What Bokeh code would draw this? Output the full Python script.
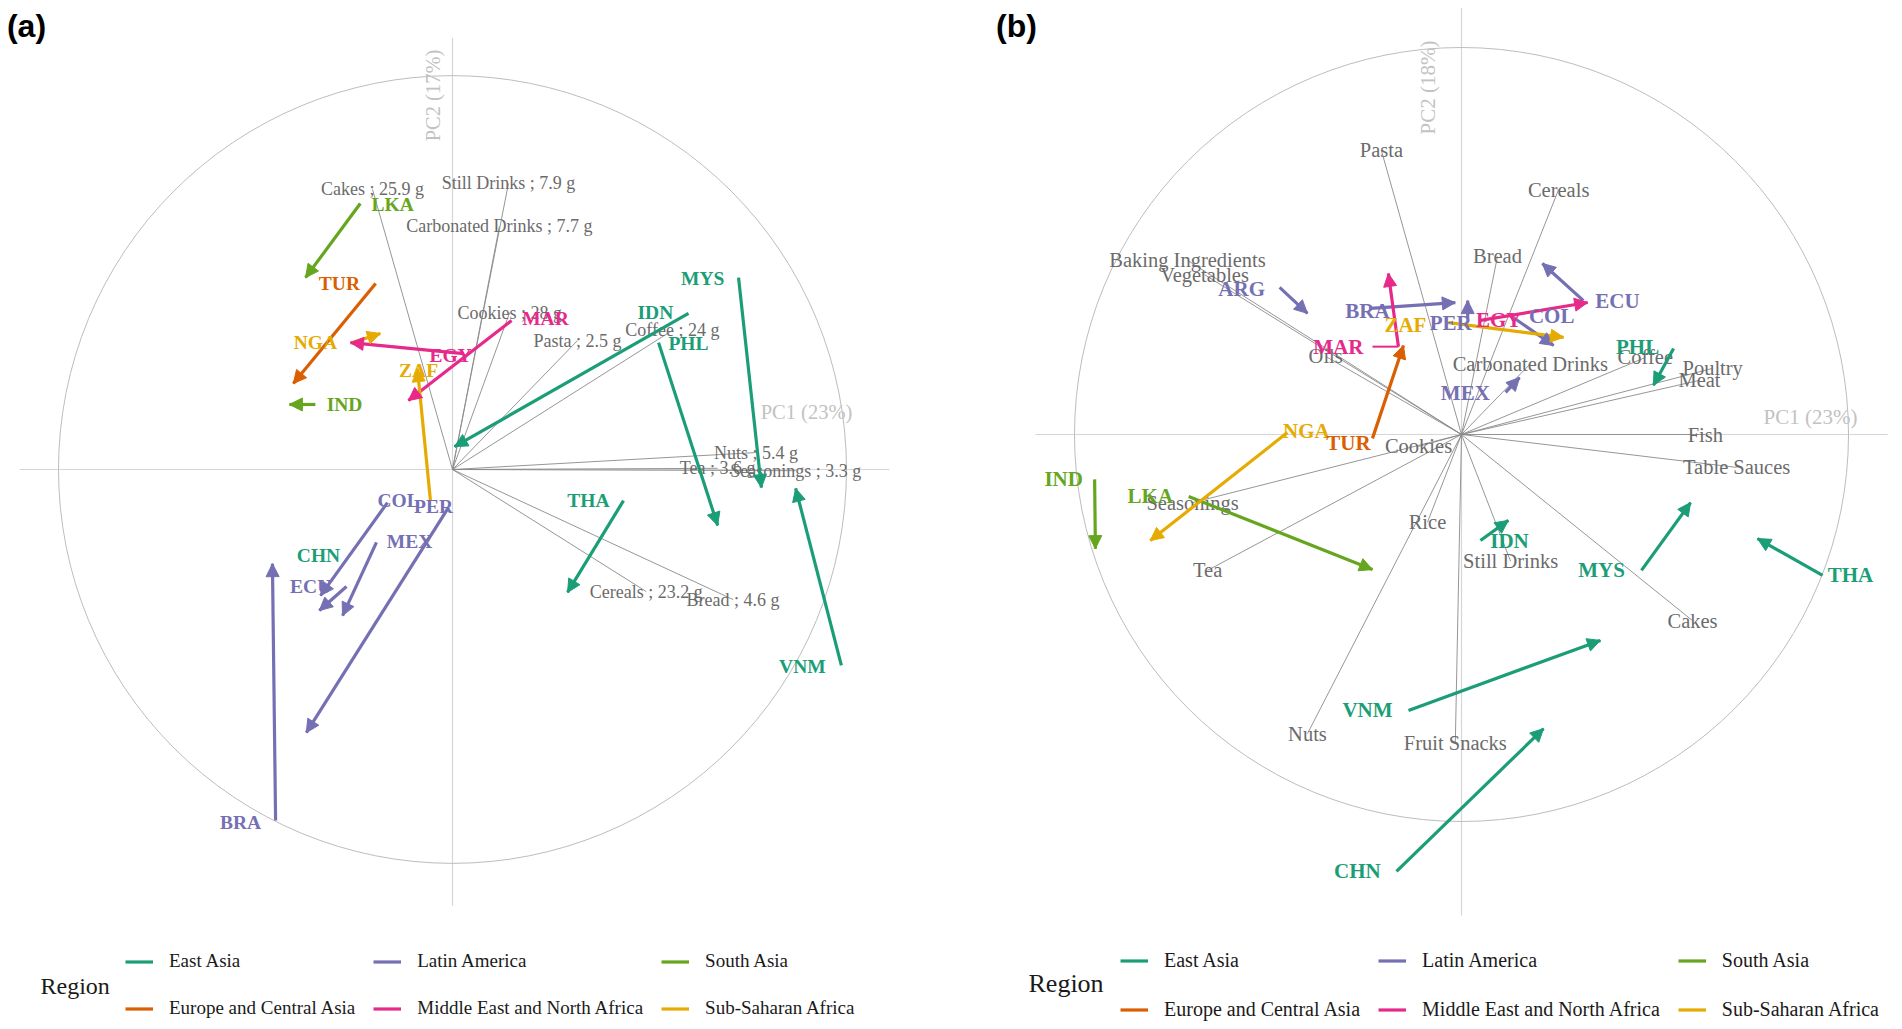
import numpy as np
from bokeh.plotting import figure
from bokeh.models import (ColumnDataSource, Arrow, NormalHead, Legend, LegendItem,
                          Label, Range1d)
from bokeh.layouts import row
from bokeh.embed import file_html
from bokeh.resources import INLINE
from bokeh.core.properties import value

# ---------------- shared ----------------
regions = ["East Asia", "Europe and Central Asia", "Latin America",
           "Middle East and North Africa", "South Asia", "Sub-Saharan Africa"]
region_colors = ["#1B9E77", "#D95F02", "#7570B3", "#E7298A", "#66A61E", "#E6AB02"]
EA, ECA, LA, MENA, SA, SSA = regions

# ---------------- panel (a) data ----------------
a_country = ["LKA", "TUR", "NGA", "EGY", "MAR", "ZAF", "IND", "IDN", "MYS", "PHL",
             "VNM", "THA", "CHN", "COL", "PER", "MEX", "ECU", "BRA"]
a_region = [SA, ECA, SSA, MENA, MENA, SSA, SA, EA, EA, EA,
            EA, EA, EA, LA, LA, LA, LA, LA]
a_label_x = [-0.152, -0.287, -0.348, -0.005, 0.236, -0.086, -0.274, 0.515, 0.635, 0.599,
             0.888, 0.345, -0.340, -0.137, -0.048, -0.109, -0.360, -0.538]
a_label_y = [0.673, 0.472, 0.322, 0.289, 0.383, 0.251, 0.165, 0.398, 0.485, 0.320,
             -0.500, -0.079, -0.218, -0.079, -0.094, -0.183, -0.297, -0.896]
a_x0 = [-0.234, -0.195, -0.254, 0.028, 0.150, -0.056, -0.348, 0.599, 0.726, 0.523,
        0.987, 0.434, -0.340, -0.165, -0.010, -0.193, -0.269, -0.449]
a_y0 = [0.675, 0.472, 0.322, 0.294, 0.378, -0.079, 0.165, 0.396, 0.487, 0.322,
        -0.497, -0.079, -0.218, -0.084, -0.096, -0.185, -0.297, -0.891]
a_x1 = [-0.373, -0.404, -0.183, -0.259, -0.112, -0.089, -0.414, 0.005, 0.784, 0.673,
        0.871, 0.292, -0.340, -0.335, -0.371, -0.279, -0.338, -0.457]
a_y1 = [0.487, 0.218, 0.345, 0.322, 0.175, 0.256, 0.165, 0.058, -0.046, -0.142,
        -0.048, -0.312, -0.218, -0.320, -0.668, -0.371, -0.358, -0.239]

a_var = ["Cakes ; 25.9 g", "Still Drinks ; 7.9 g", "Carbonated Drinks ; 7.7 g",
         "Cookies ; 28 g", "Pasta ; 2.5 g", "Coffee ; 24 g", "Nuts ; 5.4 g",
         "Tea ; 3.6 g", "Seasonings ; 3.3 g", "Cereals ; 23.2 g", "Bread ; 4.6 g"]
a_var_x = [-0.203, 0.142, 0.119, 0.145, 0.317, 0.558, 0.770, 0.673, 0.871, 0.492, 0.712]
a_var_y = [0.711, 0.726, 0.617, 0.398, 0.327, 0.353, 0.043, 0.003, -0.003, -0.310, -0.330]

# ---------------- panel (b) data ----------------
b_country = ["ARG", "BRA", "ZAF", "PER", "EGY", "COL", "ECU", "MAR", "MEX", "PHL",
             "NGA", "TUR", "IND", "LKA", "IDN", "MYS", "THA", "VNM", "CHN"]
b_region = [LA, LA, SSA, LA, MENA, LA, LA, MENA, LA, EA,
            SSA, ECA, SA, SA, EA, EA, EA, EA, EA]
b_label_x = [-0.568, -0.243, -0.145, -0.028, 0.096, 0.233, 0.403, -0.318, 0.010, 0.455,
             -0.401, -0.292, -1.028, -0.804, 0.124, 0.362, 1.005, -0.243, -0.269]
b_label_y = [0.377, 0.318, 0.282, 0.287, 0.295, 0.305, 0.346, 0.227, 0.106, 0.227,
             0.010, -0.023, -0.116, -0.160, -0.276, -0.351, -0.364, -0.713, -1.129]
b_x0 = [-0.470, -0.235, -0.034, 0.016, 0.049, 0.127, 0.315, -0.163, 0.114, 0.548,
        -0.450, -0.230, -0.948, -0.705, 0.049, 0.465, 0.933, -0.137, -0.168]
b_y0 = [0.380, 0.326, 0.289, 0.300, 0.295, 0.307, 0.346, 0.227, 0.109, 0.222,
        0.005, -0.010, -0.116, -0.160, -0.274, -0.351, -0.364, -0.713, -1.129]
b_x1 = [-0.398, -0.016, 0.264, 0.016, 0.326, 0.238, 0.209, -0.189, 0.150, 0.496,
        -0.804, -0.150, -0.946, -0.230, 0.121, 0.592, 0.765, 0.359, 0.212]
b_y1 = [0.313, 0.341, 0.251, 0.346, 0.341, 0.230, 0.442, 0.416, 0.147, 0.127,
        -0.274, 0.230, -0.295, -0.349, -0.222, -0.176, -0.269, -0.532, -0.760]
# label-to-point connector (repelled label)
b_conn_country = ["MAR"]
b_conn_x0 = [-0.230]
b_conn_y0 = [0.227]
b_conn_x1 = [-0.163]
b_conn_y1 = [0.227]

b_var = ["Pasta", "Cereals", "Bread", "Baking Ingredients", "Vegetables", "Oils",
         "Carbonated Drinks", "Coffee", "Poultry", "Meat", "Fish", "Table Sauces",
         "Cookies", "Seasonings", "Tea", "Rice", "Nuts", "Fruit Snacks",
         "Still Drinks", "Cakes"]
b_var_x = [-0.207, 0.251, 0.093, -0.708, -0.664, -0.351, 0.178, 0.475, 0.649, 0.615,
           0.630, 0.711, -0.111, -0.695, -0.656, -0.088, -0.398, -0.016, 0.127, 0.597]
b_var_y = [0.734, 0.633, 0.460, 0.450, 0.413, 0.202, 0.183, 0.199, 0.171, 0.140,
           0.000, -0.085, -0.031, -0.176, -0.351, -0.227, -0.773, -0.798, -0.328, -0.481]

pc1_labels = ["PC1 (23%)", "PC1 (23%)"]
pc2_labels = ["PC2 (17%)", "PC2 (18%)"]
panel_tags = ["(a)", "(b)"]

# axis line extents (data units): hmin, hmax, vmin, vmax
a_axis = (-1.099, 1.109, -1.107, 1.096)
b_axis = (-1.101, 1.101, -1.243, 1.103)

# ---------------- layout geometry (page pixels) ----------------
TOP, BOTTOM = 0, 1024
geo_a = dict(cx=452, cy=469, R=394, left=0, right=948,
             var_font="18px", cty_font="19.5px", pc_font="20.5px", leg_font="19px",
             leg_x=125, leg_row1=961, leg_gh=29, region_font="24px",
             region_xy=(40, 985), tag_xy=(26, 25),
             pc1_xy=(806, 411), pc2_xy=(432, 95))
geo_b = dict(cx=1461, cy=434, R=387, left=948, right=1896,
             var_font="20.5px", cty_font="21px", pc_font="21px", leg_font="20px",
             leg_x=1120, leg_row1=960, leg_gh=31, region_font="26px",
             region_xy=(1028, 983), tag_xy=(1016, 25),
             pc1_xy=(1810, 416), pc2_xy=(1427, 87))

SERIF = "Liberation Serif"


def build(g, country, region, lx, ly, x0, y0, x1, y1, var, vx, vy, axis,
          pc1, pc2, tag, conn=None):
    cx, cy, R = g["cx"], g["cy"], g["R"]

    def d(X, Y):
        return (X - cx) / R, (cy - Y) / R

    W = g["right"] - g["left"]
    H = BOTTOM - TOP
    xs, _ = d(g["left"], 0)
    xe, _ = d(g["right"], 0)
    _, ys = d(0, BOTTOM)
    _, ye = d(0, TOP)
    p = figure(width=W, height=H, x_range=Range1d(xs, xe), y_range=Range1d(ys, ye),
               output_backend="svg", toolbar_location=None, min_border=0,
               x_axis_location=None, y_axis_location=None, outline_line_color=None,
               background_fill_color="white", border_fill_color="white")
    p.grid.visible = False

    # axes through origin
    hmin, hmax, vmin, vmax = axis
    p.segment(x0=[hmin, 0], y0=[0, vmin], x1=[hmax, 0], y1=[0, vmax],
              line_color="#d6d6d6", line_width=1.2)
    # correlation circle
    p.circle(x=[0], y=[0], radius=1, fill_color=None, line_color="#bdbdbd", line_width=1)

    # variable loadings
    vsrc = ColumnDataSource(dict(x=vx, y=vy, t=var, z=[0.0] * len(vx)))
    p.segment(x0="z", y0="z", x1="x", y1="y", source=vsrc, line_color="#8a8a8a", line_width=0.9)
    p.text(x="x", y="y", text="t", source=vsrc, text_font=value(SERIF),
           text_font_size=g["var_font"], text_color="#6b6b6b",
           text_align="center", text_baseline="middle")

    # PC axis labels
    pcx, pcy = d(*g["pc1_xy"])
    p.add_layout(Label(x=pcx, y=pcy, text=pc1, text_font=SERIF, text_font_size=g["pc_font"],
                       text_color="#c2c2c2", text_align="center", text_baseline="middle"))
    pcx, pcy = d(*g["pc2_xy"])
    p.add_layout(Label(x=pcx, y=pcy, text=pc2, text_font=SERIF, text_font_size=g["pc_font"],
                       text_color="#c2c2c2", text_align="center", text_baseline="middle",
                       angle=np.pi / 2))

    # country arrows grouped by region
    items = []
    for reg, col in zip(regions, region_colors):
        idx = [i for i, r in enumerate(region)
               if r == reg and (x0[i] != x1[i] or y0[i] != y1[i])]
        src = ColumnDataSource(dict(x0=[x0[i] for i in idx], y0=[y0[i] for i in idx],
                                    x1=[x1[i] for i in idx], y1=[y1[i] for i in idx]))
        r = p.segment(x0="x0", y0="y0", x1="x1", y1="y1", source=src,
                      line_color=col, line_width=3.2)
        p.add_layout(Arrow(end=NormalHead(size=13, fill_color=col, line_color=col, line_width=1),
                           x_start="x0", y_start="y0", x_end="x1", y_end="y1",
                           source=src, line_alpha=0))
        items.append(LegendItem(label=reg, renderers=[r]))

    colmap = dict(zip(regions, region_colors))
    if conn is not None:
        cc, cx0, cy0, cx1, cy1 = conn
        ccol = [colmap[region[country.index(c)]] for c in cc]
        p.segment(x0=cx0, y0=cy0, x1=cx1, y1=cy1, line_color=ccol, line_width=2)

    csrc = ColumnDataSource(dict(x=lx, y=ly, t=country, c=[colmap[r] for r in region]))
    tr = p.text(x="x", y="y", text="t", source=csrc, text_font=value(SERIF),
                text_font_style="bold", text_font_size=g["cty_font"], text_color="c",
                text_align="center", text_baseline="middle")
    tr.level = "overlay"

    # legend
    gh = g["leg_gh"]
    sp = 18
    leg_top = g["leg_row1"] - gh / 2
    leg_bottom = leg_top + 2 * gh + sp
    legend = Legend(items=items, location=(g["leg_x"] - g["left"], BOTTOM - leg_bottom),
                    orientation="vertical", nrows=2,
                    label_text_font=SERIF, label_text_font_size=g["leg_font"],
                    label_text_color="#1a1a1a", glyph_width=28, glyph_height=gh,
                    label_standoff=16, spacing=sp, padding=0, margin=0,
                    border_line_alpha=0, background_fill_alpha=0, label_height=20)
    p.add_layout(legend)

    rx, ry = d(*g["region_xy"])
    p.add_layout(Label(x=rx, y=ry, text="Region", text_font=SERIF,
                       text_font_size=g["region_font"], text_color="#1a1a1a",
                       text_align="left", text_baseline="middle"))
    tx, ty = d(*g["tag_xy"])
    p.add_layout(Label(x=tx, y=ty, text=tag, text_font="Liberation Sans",
                       text_font_style="bold", text_font_size="32px", text_color="black",
                       text_align="center", text_baseline="middle"))
    return p


pa = build(geo_a, a_country, a_region, a_label_x, a_label_y, a_x0, a_y0, a_x1, a_y1,
           a_var, a_var_x, a_var_y, a_axis, pc1_labels[0], pc2_labels[0], panel_tags[0])
pb = build(geo_b, b_country, b_region, b_label_x, b_label_y, b_x0, b_y0, b_x1, b_y1,
           b_var, b_var_x, b_var_y, b_axis, pc1_labels[1], pc2_labels[1], panel_tags[1],
           conn=(b_conn_country, b_conn_x0, b_conn_y0, b_conn_x1, b_conn_y1))

layout = row(pa, pb, spacing=0)
open("out.html", "w").write(file_html(layout, INLINE))
